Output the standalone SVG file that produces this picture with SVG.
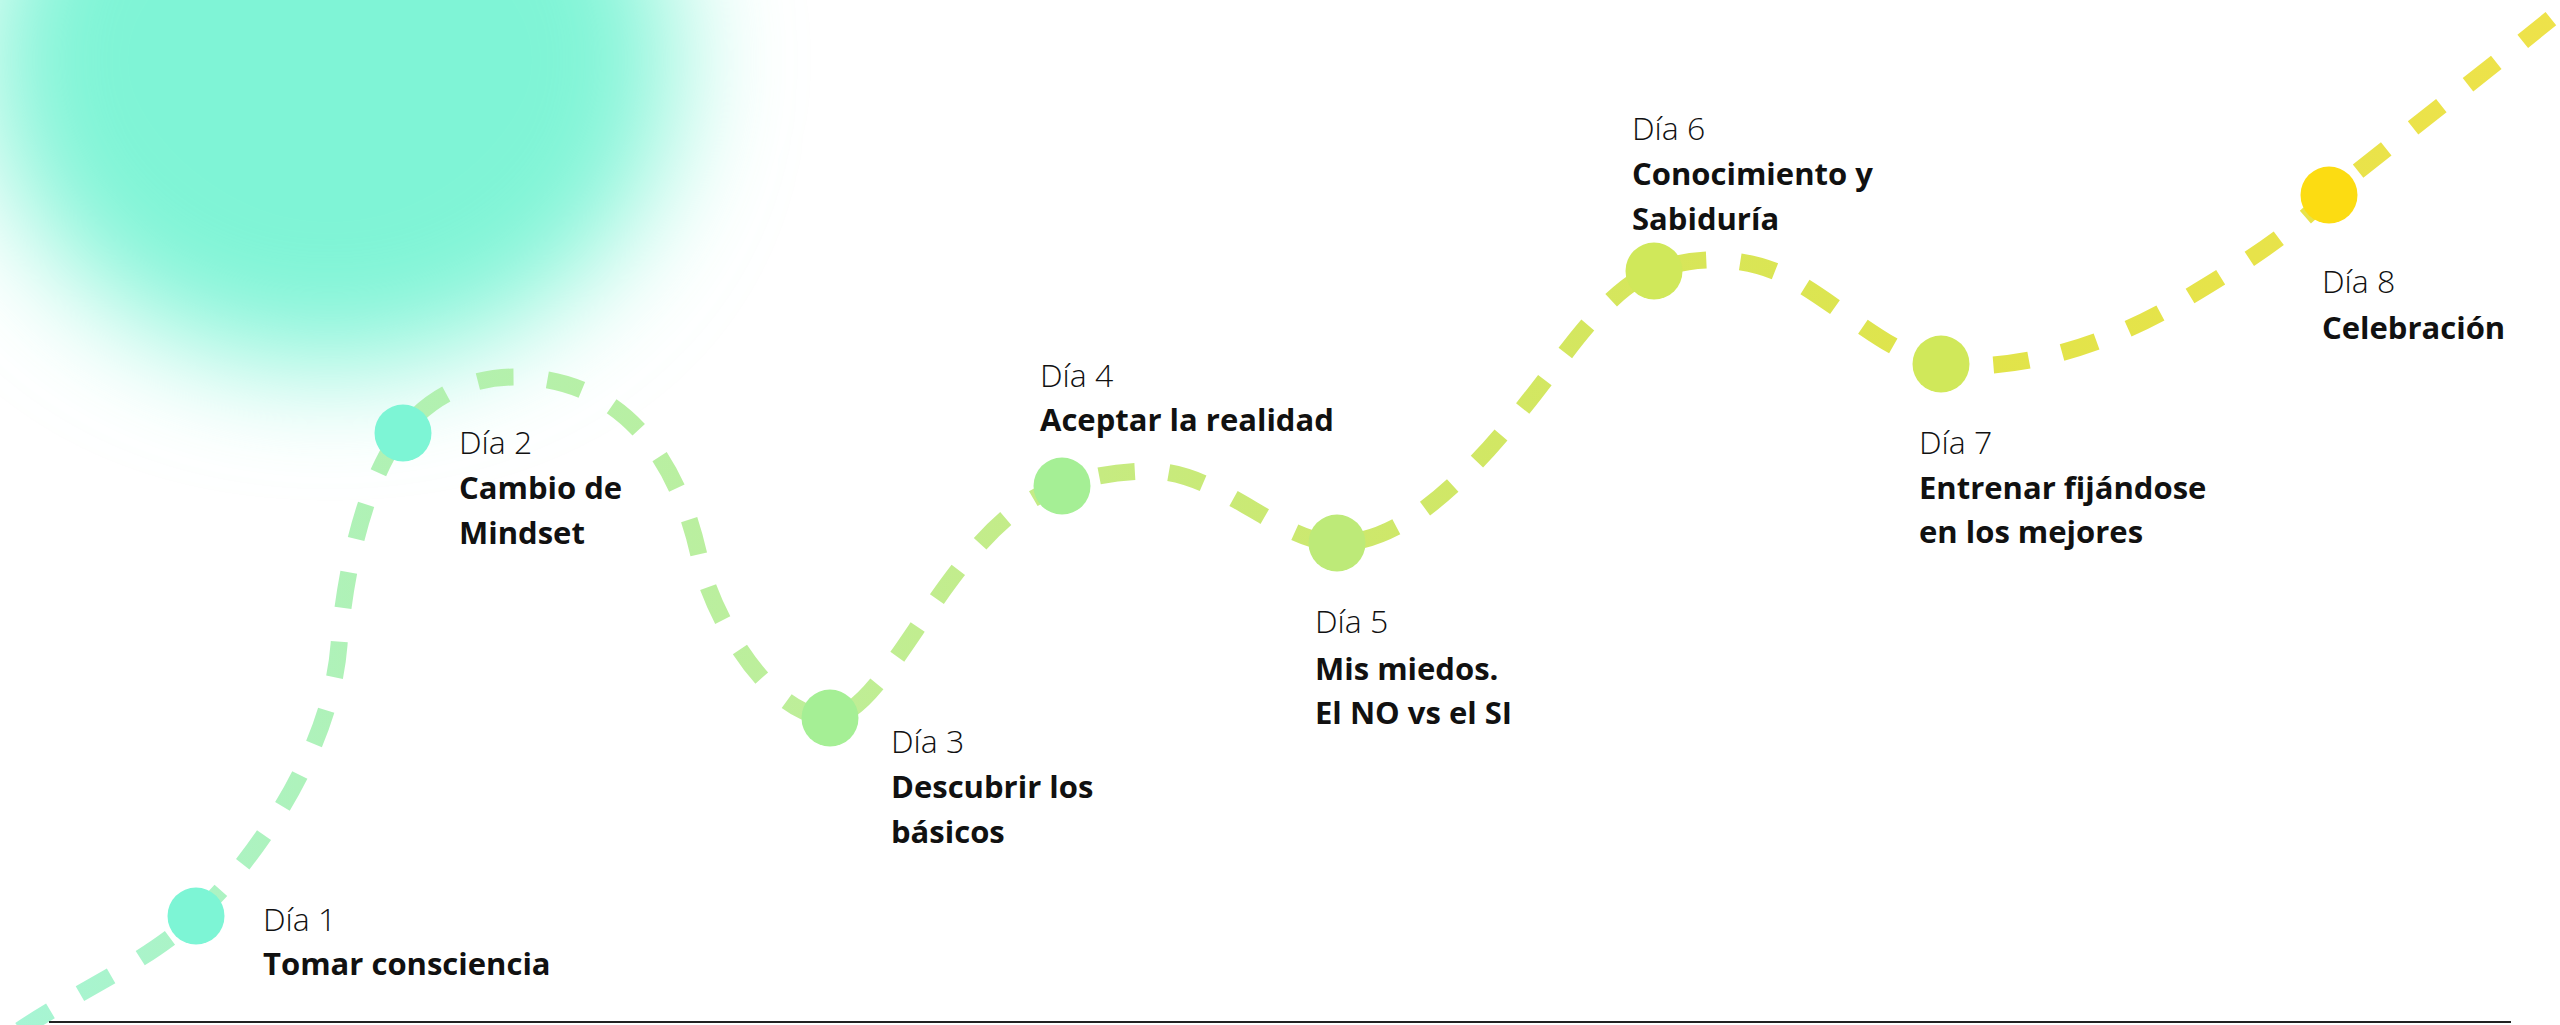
<svg xmlns="http://www.w3.org/2000/svg" width="2560" height="1025" viewBox="0 0 2560 1025">
  <defs>
    <linearGradient id="pathGrad" gradientUnits="userSpaceOnUse" x1="0" y1="0" x2="2560" y2="0">
      <stop offset="0" stop-color="#a6f5d6"/>
      <stop offset="0.16" stop-color="#b1f1b2"/>
      <stop offset="0.33" stop-color="#bfee96"/>
      <stop offset="0.53" stop-color="#cde86c"/>
      <stop offset="0.76" stop-color="#e0e44a"/>
      <stop offset="1" stop-color="#eee24a"/>
    </linearGradient>
    <filter id="blur" x="-50%" y="-50%" width="200%" height="200%">
      <feGaussianBlur stdDeviation="58"/>
    </filter>
  </defs>
  <style>
    .day { font-family: "Open Sans", "Liberation Sans", sans-serif; font-weight: 300; font-size: 32px; fill: #111; }
    .title { font-family: "Open Sans", "Liberation Sans", sans-serif; font-weight: 700; font-size: 31px; fill: #111; }
    .path { fill: none; stroke: url(#pathGrad); stroke-width: 17; stroke-dasharray: 36 34; }
  </style>
  <rect width="2560" height="1025" fill="#ffffff"/>
  <ellipse cx="330" cy="60" rx="345" ry="305" fill="#7ff4d6" filter="url(#blur)"/>

  <g id="connectors">
    <path class="path" d="M 20 1030 C 80 990 150 960 196 916 C 245 870 330 760 339 645 C 345 570 365 480 402 432 C 430 396 470 377 515 377 C 590 377 670 420 700 560 C 712 616 770 717 829 717 C 890 717 950 520 1062 486 C 1090 476 1120 471 1150 471 C 1220 471 1280 543 1337 543 C 1420 543 1500 440 1560 360 C 1590 320 1620 285 1654 271 C 1688 257 1745 252 1795 281 C 1845 310 1895 358 1941 364 C 2000 372 2090 355 2180 302 C 2240 266 2290 235 2329 195 C 2370 160 2470 85 2580 -5"/>
  </g>

  <g id="node1">
    <circle cx="196" cy="916" r="28.5" fill="#7df5d5"/>
    <text class="day" x="263" y="931">Día 1</text>
    <text class="title" x="263" y="975">Tomar consciencia</text>
  </g>
  <g id="node2">
    <circle cx="403" cy="433" r="28.5" fill="#7df5d5"/>
    <text class="day" x="459" y="454">Día 2</text>
    <text class="title" x="459" y="499">Cambio de</text>
    <text class="title" x="459" y="544">Mindset</text>
  </g>
  <g id="node3">
    <circle cx="830" cy="718" r="28.5" fill="#a5ef95"/>
    <text class="day" x="891" y="753">Día 3</text>
    <text class="title" x="891" y="798">Descubrir los</text>
    <text class="title" x="891" y="843">básicos</text>
  </g>
  <g id="node4">
    <circle cx="1062" cy="486" r="28.5" fill="#a5ef95"/>
    <text class="day" x="1040" y="387">Día 4</text>
    <text class="title" x="1040" y="431">Aceptar la realidad</text>
  </g>
  <g id="node5">
    <circle cx="1337" cy="543" r="28.5" fill="#bdea78"/>
    <text class="day" x="1315" y="633">Día 5</text>
    <text class="title" x="1315" y="680">Mis miedos.</text>
    <text class="title" x="1315" y="724">El NO vs el SI</text>
  </g>
  <g id="node6">
    <circle cx="1654" cy="271" r="28.5" fill="#d0e85a"/>
    <text class="day" x="1632" y="140">Día 6</text>
    <text class="title" x="1632" y="185">Conocimiento y</text>
    <text class="title" x="1632" y="230">Sabiduría</text>
  </g>
  <g id="node7">
    <circle cx="1941" cy="364" r="28.5" fill="#d0e85a"/>
    <text class="day" x="1919" y="454">Día 7</text>
    <text class="title" x="1919" y="499">Entrenar fijándose</text>
    <text class="title" x="1919" y="543">en los mejores</text>
  </g>
  <g id="node8">
    <circle cx="2329" cy="195" r="28.5" fill="#fcdc12"/>
    <text class="day" x="2322" y="293">Día 8</text>
    <text class="title" x="2322" y="339">Celebración</text>
  </g>

  <line x1="49" y1="1022" x2="2511" y2="1022" stroke="#222" stroke-width="2"/>
</svg>
